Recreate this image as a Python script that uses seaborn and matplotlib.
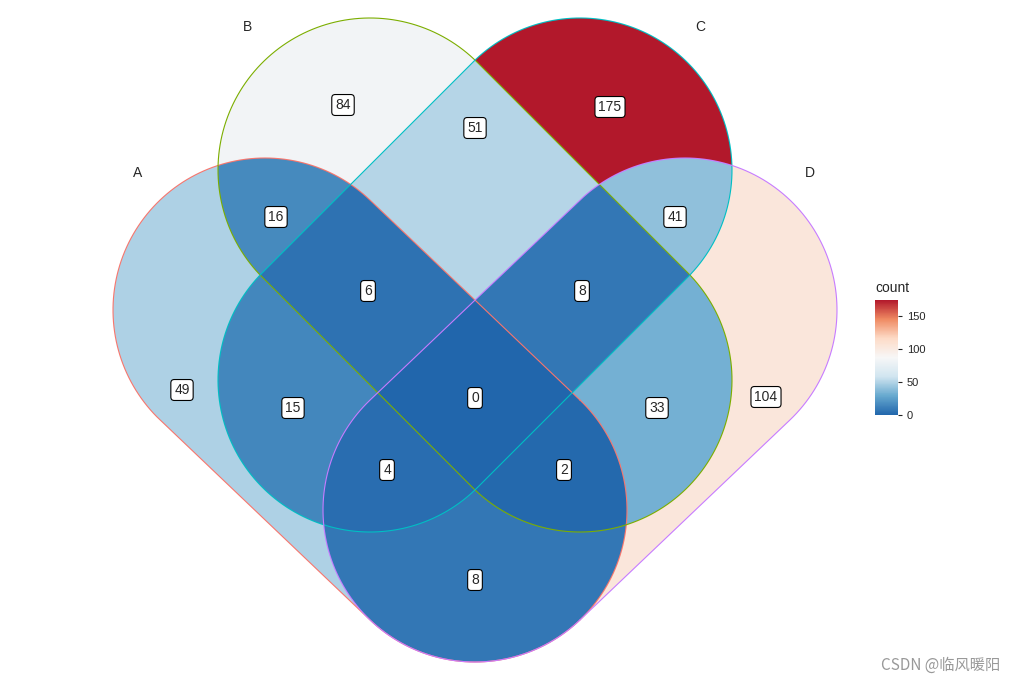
import matplotlib
matplotlib.use("Agg")
import matplotlib.pyplot as plt
import numpy as np
import seaborn as sns
from matplotlib.colors import LinearSegmentedColormap

set_names = ["A", "B", "C", "D"]
set_colors = ["#F8766D", "#7CAE00", "#00BFC4", "#C77CFF"]
# region membership (A,B,C,D) -> count
regions = ["A", "B", "C", "D", "AB", "AC", "AD", "BC", "BD", "CD",
           "ABC", "ABD", "ACD", "BCD", "ABCD"]
counts = [49, 84, 175, 104, 16, 15, 8, 51, 33, 41, 6, 2, 4, 8, 0]
# label anchor per region (pixel space)
label_pos = [(182, 390), (343, 105), (610, 107), (766, 397), (276, 217), (293, 408),
             (475, 580), (475, 128), (657, 408), (675, 217), (368, 291), (564, 470),
             (387, 470), (582, 291), (475, 398)]

# capsule shapes in pixel space: two cap centres and radius
caps = {
    "A": ((265, 310), (475, 510)),
    "B": ((370, 170), (580, 380)),
    "C": ((580, 170), (370, 380)),
    "D": ((685, 310), (475, 510)),
}
radius = 152
name_pos = {"A": (138, 173), "B": (248, 27), "C": (700, 27), "D": (810, 173)}

W, H = 1016, 684
sns.set_style("white")
plt.rcParams["font.family"] = ["Liberation Sans", "DejaVu Sans"]
fig = plt.figure(figsize=(W / 100, H / 100), dpi=100)
ax = fig.add_axes([0, 0, 1, 1])

cmap = LinearSegmentedColormap.from_list(
    "rdbu7", ["#2166AC", "#67A9CF", "#D1E5F0", "#F7F7F7", "#FDDBC7", "#EF8A62", "#B2182B"])

yy, xx = np.mgrid[0:H, 0:W] + 0.5


def inside(p1, p2):
    p1 = np.array(p1, float); p2 = np.array(p2, float)
    d = p2 - p1
    t = ((xx - p1[0]) * d[0] + (yy - p1[1]) * d[1]) / (d @ d)
    t = np.clip(t, 0, 1)
    px = p1[0] + t * d[0]; py = p1[1] + t * d[1]
    return (xx - px) ** 2 + (yy - py) ** 2 <= radius ** 2


masks = {s: inside(*caps[s]) for s in set_names}
grid = np.full((H, W), np.nan)
for reg, c in zip(regions, counts):
    m = np.ones((H, W), bool)
    for s in set_names:
        m &= masks[s] if s in reg else ~masks[s]
    grid[m] = c

im = ax.imshow(grid, cmap=cmap, vmin=0, vmax=175, extent=(0, W, H, 0),
               interpolation="nearest")

for s, col in zip(set_names, set_colors):
    p1, p2 = np.array(caps[s][0], float), np.array(caps[s][1], float)
    th = np.arctan2(*(p2 - p1)[::-1])
    a1 = np.linspace(th - np.pi / 2, th + np.pi / 2, 100)
    a2 = np.linspace(th + np.pi / 2, th + 3 * np.pi / 2, 100)
    xs = np.r_[p2[0] + radius * np.cos(a1), p1[0] + radius * np.cos(a2), p2[0] + radius * np.cos(a1[0])]
    ys = np.r_[p2[1] + radius * np.sin(a1), p1[1] + radius * np.sin(a2), p2[1] + radius * np.sin(a1[0])]
    ax.plot(xs, ys, color=col, lw=0.8)
    ax.text(*name_pos[s], s, ha="center", va="center", fontsize=10)

for pos, c in zip(label_pos, counts):
    ax.text(*pos, str(c), ha="center", va="center", fontsize=10,
            bbox=dict(boxstyle="round,pad=0.25", fc="white", ec="black", lw=0.8))

ax.set_xlim(0, W); ax.set_ylim(H, 0)
ax.axis("off")

cax = fig.add_axes([875 / W, 1 - 415 / H, 23 / W, 115 / H])
cb = fig.colorbar(im, cax=cax, ticks=[0, 50, 100, 150])
cb.outline.set_visible(False)
cb.ax.tick_params(labelsize=8, length=3)
cax.set_title("count", fontsize=10, loc="left", pad=6)

fig.text(1000 / W, 1 - 665 / H, "CSDN @临风暖阳", ha="right", va="center", fontsize=11,
         color="#999999", family=["Noto Sans CJK SC", "DejaVu Sans"])
fig.savefig("out.png", dpi=100)
